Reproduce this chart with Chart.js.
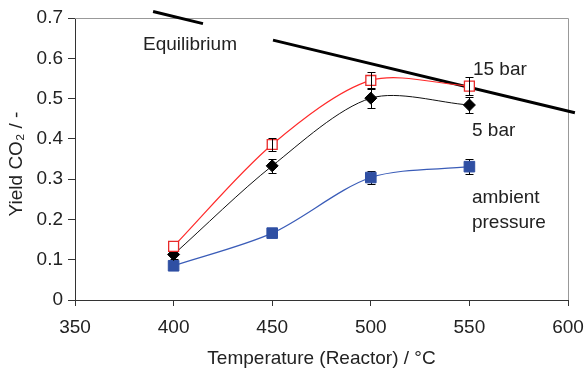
<!DOCTYPE html>
<html><head><meta charset="utf-8">
<script src="https://cdn.jsdelivr.net/npm/chart.js@4"></script>
<style>html,body{margin:0;padding:0;background:#fff}#wrap{width:585px;height:368px}</style>
</head><body><div id="wrap"><canvas id="c" width="585" height="368"></canvas></div>
<script>
// ---- data ----
const temps = [400, 450, 500, 550];
const yield15 = [0.133, 0.386, 0.545, 0.531];
const err15 = [0, 0.016, 0.022, 0.023];
const yield5 = [0.113, 0.333, 0.501, 0.484];
const err5 = [0.01, 0.017, 0.025, 0.02];
const yieldAmb = [0.085, 0.166, 0.304, 0.331];
const errAmb = [0, 0, 0.015, 0.018];
const eqT = [389.6, 414.9, null, 450.4, 603.5];
const eqY = [0.716, 0.686, null, 0.645, 0.465];
const xTicks = [350, 400, 450, 500, 550, 600];
const yTicks = [0, 0.1, 0.2, 0.3, 0.4, 0.5, 0.6, 0.7];
const yTitle = 'Yield CO₂ / -';
const xTitle = 'Temperature (Reactor) / °C';
const labels = [
  {text: 'Equilibrium', x: 408.3, y: 0.634, align: 'center'},
  {text: '15 bar', x: 551.8, y: 0.572, align: 'left'},
  {text: '5 bar', x: 551.3, y: 0.420, align: 'left'},
  {text: 'ambient', x: 551.3, y: 0.254, align: 'left'},
  {text: 'pressure', x: 551.3, y: 0.192, align: 'left'}
];

const FONT = {family: '"Liberation Sans", Arial, sans-serif', size: 19};
const TXT = '#222';
const pts = (xs, ys) => xs.map((x, i) => ({x: x, y: ys[i]}));

function drawErr(chart, dsIndex) {
  const ds = chart.data.datasets[dsIndex];
  if (!ds.errors) return;
  const ctx = chart.ctx, xs = chart.scales.x, ys = chart.scales.y;
  ctx.save();
  ctx.strokeStyle = '#000';
  ctx.lineWidth = 1;
  ds.data.forEach((p, i) => {
    const e = ds.errors[i];
    if (!e) return;
    const px = Math.round(xs.getPixelForValue(p.x)) + 0.5;
    const y1 = Math.round(ys.getPixelForValue(p.y + e)) + 0.5;
    const y2 = Math.round(ys.getPixelForValue(p.y - e)) + 0.5;
    ctx.beginPath();
    ctx.moveTo(px, y1); ctx.lineTo(px, y2);
    ctx.moveTo(px - 4, y1); ctx.lineTo(px + 4, y1);
    ctx.moveTo(px - 4, y2); ctx.lineTo(px + 4, y2);
    ctx.stroke();
  });
  ctx.restore();
}

const plugin = {
  id: 'extras',
  beforeDatasetsDraw(chart) {
    const a = chart.chartArea, ctx = chart.ctx;
    ctx.save();
    ctx.strokeStyle = '#999';
    ctx.lineWidth = 1;
    ctx.beginPath();
    ctx.moveTo(a.left, Math.round(a.top) + 0.5);
    ctx.lineTo(Math.round(a.right) + 0.5, Math.round(a.top) + 0.5);
    ctx.lineTo(Math.round(a.right) + 0.5, a.bottom);
    ctx.stroke();
    // y axis title (drawn manually to match offset)
    ctx.font = FONT.size + 'px ' + FONT.family;
    ctx.fillStyle = TXT;
    ctx.textAlign = 'center';
    ctx.textBaseline = 'middle';
    ctx.translate(17, (a.top + a.bottom) / 2 + 5);
    ctx.rotate(-Math.PI / 2);
    ctx.fillText(yTitle, 0, 0);
    ctx.restore();
  },
  beforeDatasetDraw(chart, args) {
    const ds = chart.data.datasets[args.index];
    if (ds.errUnder) drawErr(chart, args.index);
  },
  afterDatasetDraw(chart, args) {
    const ds = chart.data.datasets[args.index];
    if (ds.errors && !ds.errUnder) drawErr(chart, args.index);
  },
  afterDatasetsDraw(chart) {
    const ctx = chart.ctx, xs = chart.scales.x, ys = chart.scales.y;
    ctx.save();
    ctx.font = FONT.size + 'px ' + FONT.family;
    ctx.fillStyle = TXT;
    ctx.textBaseline = 'middle';
    labels.forEach(l => {
      ctx.textAlign = l.align;
      ctx.fillText(l.text, xs.getPixelForValue(l.x), ys.getPixelForValue(l.y));
    });
    ctx.restore();
  }
};

const noPad = s => { s.paddingLeft = 0; s.paddingRight = 0; s.paddingTop = 0; s.paddingBottom = 0; };

new Chart(document.getElementById('c'), {
  type: 'line',
  data: {
    datasets: [
      {
        label: 'Equilibrium', data: pts(eqT, eqY), borderColor: '#000', borderWidth: 3,
        pointRadius: 0, tension: 0, clip: false, order: 10, spanGaps: false
      },
      {
        label: 'ambient pressure', data: pts(temps, yieldAmb), errors: errAmb, errUnder: true,
        borderColor: '#3a5cb8', borderWidth: 1.2, tension: 0.3,
        pointStyle: 'rect', pointRadius: 7.5, pointBackgroundColor: '#2f4fa3',
        pointBorderColor: '#2f4fa3', pointBorderWidth: 1, order: 4
      },
      {
        label: '5 bar', data: pts(temps, yield5), errors: err5, errUnder: true,
        borderColor: '#111', borderWidth: 1, tension: 0.3,
        pointStyle: 'rectRot', pointRadius: 6, pointBackgroundColor: '#000',
        pointBorderColor: '#000', pointBorderWidth: 1, order: 3
      },
      {
        label: '15 bar', data: pts(temps, yield15), errors: err15, errUnder: false,
        borderColor: '#ff2a2a', borderWidth: 1.2, tension: 0.3,
        pointStyle: 'rect', pointRadius: 7, pointBackgroundColor: '#fff',
        pointBorderColor: '#e82a2a', pointBorderWidth: 1.3, order: 2
      }
    ]
  },
  options: {
    responsive: false, animation: false, devicePixelRatio: 1,
    layout: {padding: {top: 18, right: 17, left: 0, bottom: 0}},
    plugins: {legend: {display: false}, tooltip: {enabled: false}},
    scales: {
      x: {
        type: 'linear', min: 350, max: 600,
        afterBuildTicks: s => { s.ticks = xTicks.map(v => ({value: v})); },
        afterFit: s => { s.height = 68; noPad(s); },
        grid: {drawOnChartArea: false, tickLength: 6, color: '#333', tickWidth: 1},
        border: {color: '#333', width: 1},
        ticks: {font: FONT, color: TXT, padding: 10, maxRotation: 0, autoSkip: false},
        title: {display: true, text: xTitle, font: {...FONT, lineHeight: 1}, color: TXT, padding: 0}
      },
      y: {
        type: 'linear', min: 0, max: 0.7,
        afterBuildTicks: s => { s.ticks = yTicks.map(v => ({value: v})); },
        afterFit: s => { s.width = 75; noPad(s); },
        grid: {drawOnChartArea: false, tickLength: 7, color: '#333', tickWidth: 1},
        border: {color: '#333', width: 1},
        ticks: {font: FONT, color: TXT, padding: 5, autoSkip: false,
          callback: v => v === 0 ? '0' : v.toFixed(1)},
        title: {display: false, text: yTitle}
      }
    }
  },
  plugins: [plugin]
});
</script>
</body></html>
